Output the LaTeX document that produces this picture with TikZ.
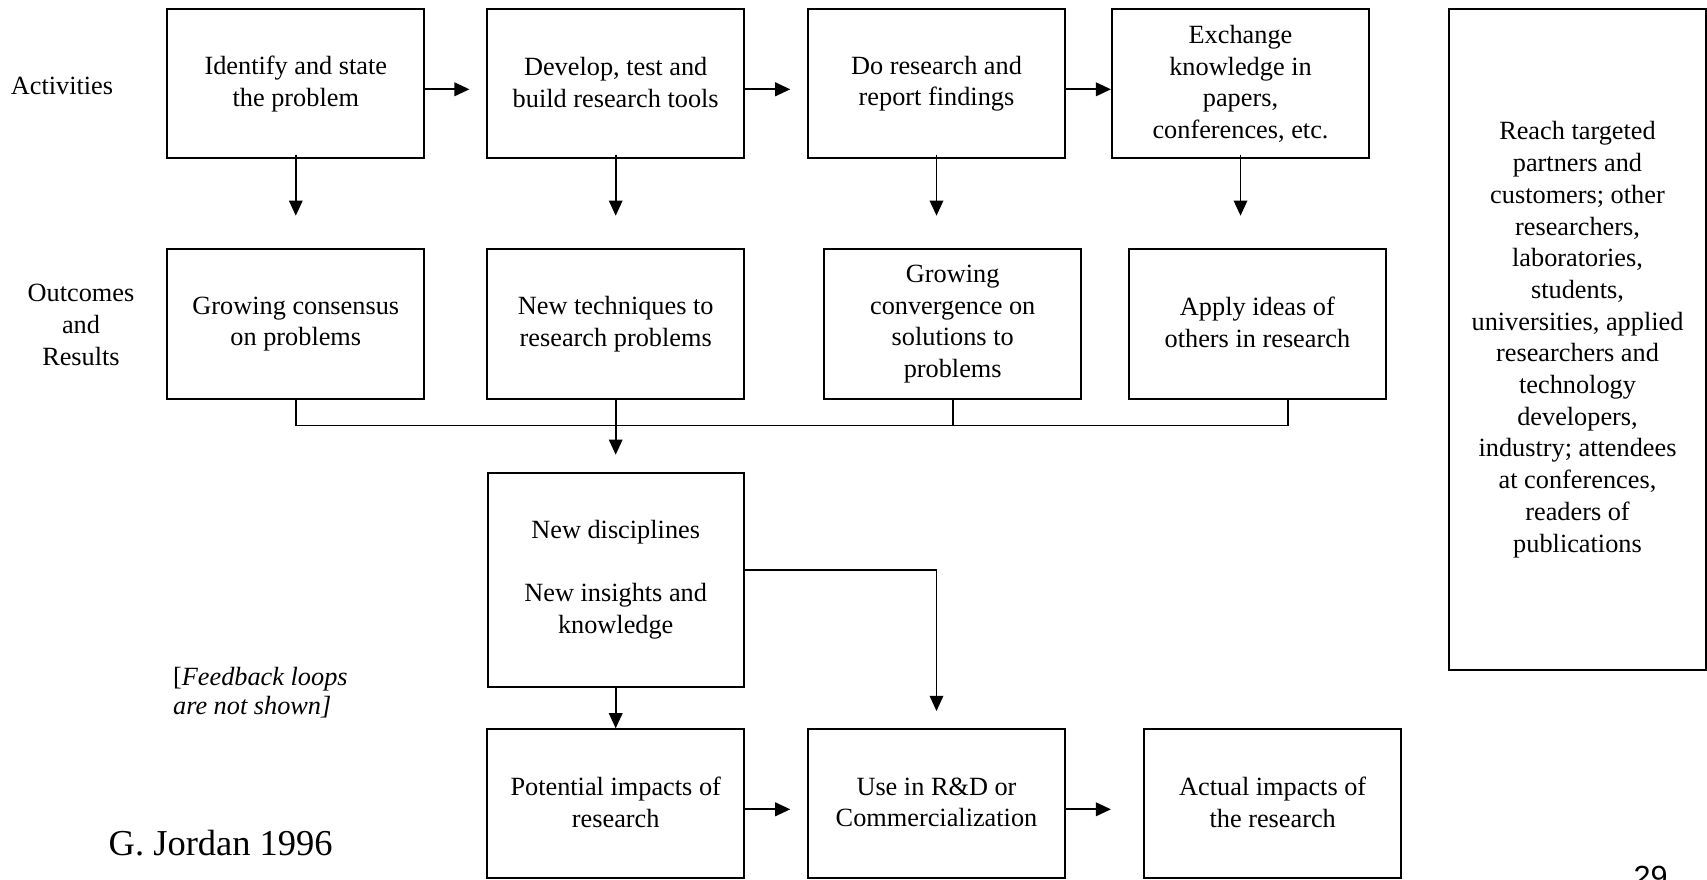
\documentclass[tikz,border=0pt]{standalone}
\usepackage{fontspec}
\setmainfont{Liberation Serif}
\newfontfamily\arialfont{Liberation Sans}
\usetikzlibrary{arrows.meta}
\newcommand\lnstrut{\rule[-1.6pt]{0pt}{15.85pt}}
\begin{document}
\begin{tikzpicture}[x=0.5pt,y=-0.5pt,
  txt/.style={font=\fontsize{13.15pt}{15.85pt}\selectfont},
  box/.style={draw, line width=1pt, align=center, inner sep=0pt, txt,
    execute at begin node=\lnstrut, execute at end node=\lnstrut},
  act/.style={box, minimum width=128.5pt, minimum height=74.5pt},
  outc/.style={box, minimum width=128.5pt, minimum height=75pt},
  lbl/.style={align=center, inner sep=0pt, txt},
  arr/.style={-{Triangle[length=7.6pt,width=6.8pt]}, line width=0.8pt},
  harr/.style={arr, line width=1.1pt},
  bus/.style={line width=0.8pt}]
\useasboundingbox (0,0) rectangle (1707,879);

% row 1: activities
\node[act] (a1) at (295.8,83.8) {Identify and state\\the problem};
\node[act] (a2) at (615.7,83.8) {Develop, test and\\build research tools};
\node[act] (a3) at (936.5,83.8) {Do research and\\report findings};
\node[act] (a4) at (1240.5,83.8) {Exchange\\knowledge in\\papers,\\conferences, etc.};

% row 2: outcomes
\node[outc] (o1) at (295.8,324) {Growing consensus\\on problems};
\node[outc] (o2) at (615.7,324) {New techniques to\\research problems};
\node[outc] (o3) at (952.7,324) {Growing\\convergence on\\solutions to\\problems};
\node[outc] (o4) at (1257.4,324) {Apply ideas of\\others in research};

% right box
\node[box, minimum width=128.5pt, minimum height=330.35pt] (rb) at (1577.5,339.7)
  {Reach targeted\\partners and\\customers; other\\researchers,\\laboratories,\\students,\\universities, applied\\researchers and\\technology\\developers,\\industry; attendees\\at conferences,\\readers of\\publications};

% middle
\node[box, minimum width=128pt, minimum height=107pt] (nd) at (615.7,579.7)
  {New disciplines\\[15.85pt]New insights and\\knowledge};

% bottom row
\node[act] (b1) at (615.7,803.8) {Potential impacts of\\research};
\node[act] (b2) at (936.5,803.8) {Use in R\&D or\\Commercialization};
\node[box, minimum width=128.75pt, minimum height=74.5pt] (b3) at (1272.7,803.8) {Actual impacts of\\the research};

% labels
\node[lbl] (lact) at (62,86) {Activities};
\node[lbl] (lout) at (81,325) {Outcomes\\and\\Results};
\node[inner sep=0pt, anchor=base west, align=left, font=\fontsize{13.15pt}{14.5pt}\selectfont] (fb) at (172.7,714)
  {[\textit{Feedback loops}\\\textit{are not shown]}};
\node[inner sep=0pt, anchor=base west, font=\fontsize{18.25pt}{22pt}\selectfont] (gj) at (108.3,855.7) {G. Jordan 1996};
\node[inner sep=0pt, anchor=base west, font=\arialfont\fontsize{15.3pt}{18pt}\selectfont] (pg) at (1633.3,887) {29};

% horizontal arrows row 1
\draw[harr, shorten >=8.35pt] ([yshift=-2.75pt]a1.east) -- ([yshift=-2.75pt]a2.west);
\draw[harr, shorten >=8.35pt] ([yshift=-2.75pt]a2.east) -- ([yshift=-2.75pt]a3.west);
\draw[harr] ([yshift=-2.75pt]a3.east) -- ([yshift=-2.75pt]a4.west);

% down arrows
\draw[arr, shorten <=-2.4pt, shorten >=16.15pt] (a1.south) -- (o1.north);
\draw[arr, shorten <=-2.4pt, shorten >=16.15pt] (a2.south) -- (o2.north);
\draw[arr, shorten <=-2.4pt, shorten >=16.15pt] (a3.south) -- (a3.south |- o3.north);
\draw[arr, shorten <=-2.4pt, shorten >=16.15pt] (a4.south) -- (a4.south |- o4.north);

% collector bus
\coordinate (busy) at (0,425.3);
\draw[bus] (o1.south) -- (o1.south |- busy) -| ([xshift=15.3pt]o4.south);
\draw[bus] (o3.south) -- (o3.south |- busy);
\draw[arr, shorten >=8.5pt] (o2.south) -- (nd.north);

% from new disciplines
\draw[arr] (nd.south) -- (b1.north);
\draw[arr, shorten >=8.65pt] ([yshift=5pt]nd.east) -| (b2.north);

% bottom horizontal arrows
\draw[harr, shorten >=8.35pt] ([yshift=-2.75pt]b1.east) -- ([yshift=-2.75pt]b2.west);
\draw[harr, shorten >=16pt] ([yshift=-2.75pt]b2.east) -- ([yshift=-2.75pt]b3.west);
\end{tikzpicture}
\end{document}
